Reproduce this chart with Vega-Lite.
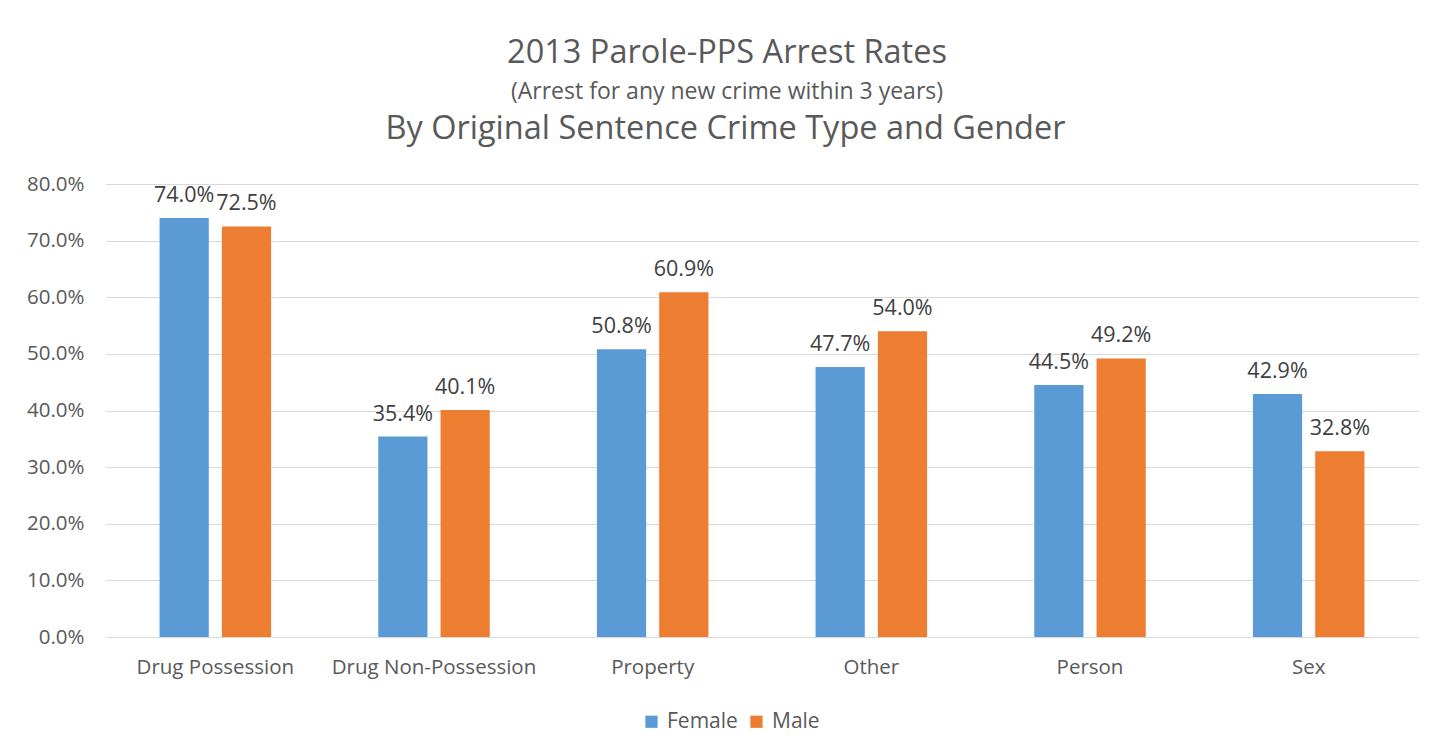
{
  "$schema": "https://vega.github.io/schema/vega-lite/v6.json",
  "autosize": "none",
  "width": 1312,
  "height": 453,
  "padding": {"left": 106, "top": 184, "right": 32, "bottom": 119},
  "background": "white",
  "title": {
    "text": "2013 Parole-PPS Arrest Rates",
    "subtitle": "(Arrest for any new crime within 3 years)",
    "fontSize": 32.5,
    "subtitleFontSize": 23,
    "font": "Open Sans",
    "subtitleFont": "Open Sans",
    "fontWeight": "normal",
    "color": "#595959",
    "subtitleColor": "#595959",
    "subtitlePadding": 12,
    "anchor": "middle",
    "dx": -35,
    "offset": 8
  },
  "data": {
    "values": [
      {"crime": "Drug Possession", "gender": "Female", "rate": 0.740},
      {"crime": "Drug Possession", "gender": "Male", "rate": 0.725},
      {"crime": "Drug Non-Possession", "gender": "Female", "rate": 0.354},
      {"crime": "Drug Non-Possession", "gender": "Male", "rate": 0.401},
      {"crime": "Property", "gender": "Female", "rate": 0.508},
      {"crime": "Property", "gender": "Male", "rate": 0.609},
      {"crime": "Other", "gender": "Female", "rate": 0.477},
      {"crime": "Other", "gender": "Male", "rate": 0.540},
      {"crime": "Person", "gender": "Female", "rate": 0.445},
      {"crime": "Person", "gender": "Male", "rate": 0.492},
      {"crime": "Sex", "gender": "Female", "rate": 0.429},
      {"crime": "Sex", "gender": "Male", "rate": 0.328}
    ]
  },
  "encoding": {
    "x": {
      "field": "crime",
      "type": "nominal",
      "sort": ["Drug Possession", "Drug Non-Possession", "Property", "Other", "Person", "Sex"],
      "scale": {"paddingInner": 0.49, "paddingOuter": 0.245}
    },
    "xOffset": {
      "field": "gender",
      "type": "nominal",
      "scale": {"paddingInner": 0.21, "paddingOuter": 0}
    },
    "y": {
      "field": "rate",
      "type": "quantitative",
      "scale": {"domain": [0, 0.8]},
      "axis": {
        "format": ".1%",
        "values": [0, 0.1, 0.2, 0.3, 0.4, 0.5, 0.6, 0.7, 0.8],
        "title": null,
        "domain": false,
        "ticks": false,
        "grid": true,
        "gridColor": "#d9d9d9",
        "gridWidth": 1,
        "labelFont": "Open Sans",
        "labelFontSize": 20.5,
        "labelColor": "#595959",
        "labelPadding": 22
      }
    }
  },
  "layer": [
    {
      "mark": {"type": "bar"},
      "encoding": {
        "color": {
          "field": "gender",
          "type": "nominal",
          "scale": {"domain": ["Female", "Male"], "range": ["#5B9BD5", "#ED7D31"]},
          "legend": {
            "title": null,
            "orient": "none",
            "legendX": 535,
            "legendY": 527,
            "direction": "horizontal",
            "symbolType": "square",
            "symbolSize": 150,
            "symbolStrokeWidth": 0,
            "labelFont": "Open Sans",
            "labelFontSize": 21,
            "labelColor": "#595959",
            "labelOffset": 5,
            "columnPadding": 8
          }
        },
        "x": {
          "field": "crime",
          "type": "nominal",
          "sort": ["Drug Possession", "Drug Non-Possession", "Property", "Other", "Person", "Sex"],
          "axis": {
            "orient": "bottom",
            "title": null,
            "labelAngle": 0,
            "labelLimit": 0,
            "ticks": false,
            "domainColor": "#d9d9d9",
            "labelFont": "Open Sans",
            "labelFontSize": 20.5,
            "labelColor": "#595959",
            "labelPadding": 20
          }
        }
      }
    },
    {
      "mark": {"type": "text", "baseline": "bottom", "dy": -11, "font": "Open Sans", "fontSize": 21.5, "color": "#404040"},
      "encoding": {
        "text": {"field": "rate", "type": "quantitative", "format": ".1%"},
        "x": {
          "field": "crime",
          "type": "nominal",
          "sort": ["Drug Possession", "Drug Non-Possession", "Property", "Other", "Person", "Sex"],
          "axis": {
            "orient": "top",
            "title": "By Original Sentence Crime Type and Gender",
            "labels": false,
            "ticks": false,
            "domain": false,
            "titleFont": "Open Sans",
            "titleFontSize": 32.5,
            "titleFontWeight": "normal",
            "titleColor": "#595959",
            "titlePadding": 39,
            "titleX": 619
          }
        }
      }
    }
  ],
  "resolve": {"axis": {"x": "independent"}},
  "config": {"view": {"stroke": null}}
}
